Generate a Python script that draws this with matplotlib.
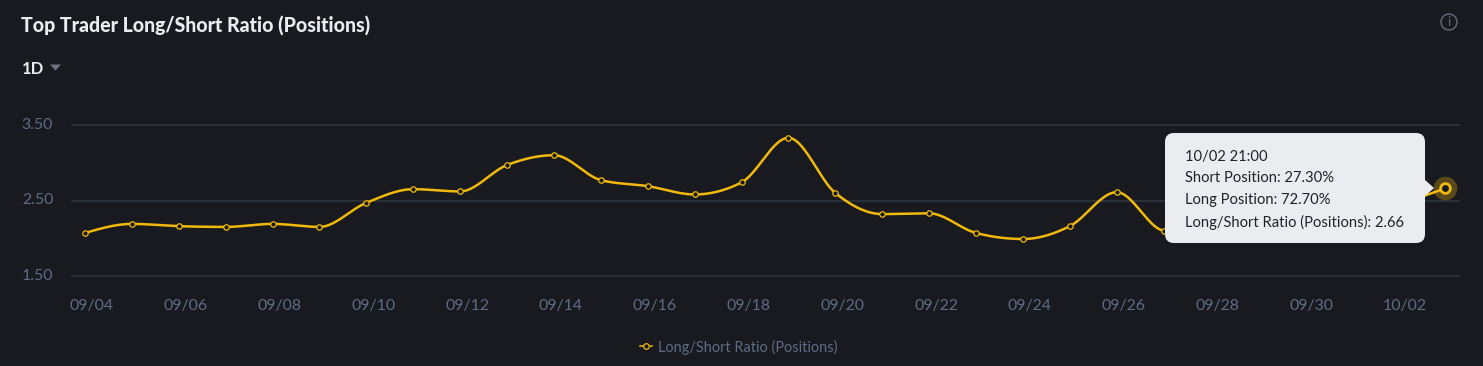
import numpy as np
import matplotlib
matplotlib.use("Agg")
import matplotlib.pyplot as plt
from matplotlib.patches import FancyBboxPatch, Polygon, Circle
from matplotlib.transforms import ScaledTranslation

# ---- data ----
dates = ["09/04","09/05","09/06","09/07","09/08","09/09","09/10","09/11","09/12","09/13",
         "09/14","09/15","09/16","09/17","09/18","09/19","09/20","09/21","09/22","09/23",
         "09/24","09/25","09/26","09/27","09/28","09/29","09/30","10/01","10/02","10/03"]
ratio = [2.07,2.19,2.16,2.15,2.19,2.15,2.47,2.65,2.62,2.97,
         3.10,2.77,2.69,2.58,2.74,3.33,2.60,2.32,2.33,2.07,
         1.99,2.16,2.61,2.10,2.05,2.15,2.20,2.30,2.45,2.66]
y_ticks = [1.5, 2.5, 3.5]
tick_every = 2
tooltip_lines = ["10/02 21:00", "Short Position: 27.30%", "Long Position: 72.70%",
                 "Long/Short Ratio (Positions): 2.66"]
title = "Top Trader Long/Short Ratio (Positions)"
series_name = "Long/Short Ratio (Positions)"

# ---- style ----
BG = "#181A20"; GRID = "#2B3139"; MUTED = "#5E6C84"; GOLD = "#F0B90B"; WHITE = "#EAECEF"
FONT = "Lato"
plt.rcParams["font.family"] = [FONT, "DejaVu Sans"]
W, H = 1483, 366
fig = plt.figure(figsize=(W/100, H/100), dpi=100, facecolor=BG)
ax = fig.add_axes([72/W, 1-276/H, (1459-72)/W, (276-125)/H], facecolor=BG)

def monotone_curve(y, n=24):
    """Monotone cubic (d3 curveMonotoneX style) through equally spaced values."""
    y = np.asarray(y, float)
    d = np.diff(y)
    m = np.zeros_like(y)
    for i in range(1, len(y)-1):
        if d[i-1]*d[i] > 0:
            s = np.sign(d[i-1])
            m[i] = s*min(2*abs(d[i-1]), 2*abs(d[i]), 0.5*abs(d[i-1]+d[i]))
    m[0] = (3*d[0]-m[1])/2
    m[-1] = (3*d[-1]-m[-2])/2
    xs, ys = [], []
    for i in range(len(y)-1):
        t = np.linspace(0, 1, n, endpoint=False)
        h00 = 2*t**3-3*t**2+1; h10 = t**3-2*t**2+t; h01 = -2*t**3+3*t**2; h11 = t**3-t**2
        xs.append(i+t); ys.append(h00*y[i]+h10*m[i]+h01*y[i+1]+h11*m[i+1])
    return np.r_[np.concatenate(xs), len(y)-1], np.r_[np.concatenate(ys), y[-1]]

x = np.arange(len(ratio))
cx, cy = monotone_curve(ratio)
ax.plot(cx, cy, color=GOLD, lw=1.8, zorder=3, solid_capstyle="round", clip_on=False)
ax.plot(x[:-1], ratio[:-1], ls="none", marker="o", ms=3.9, mfc=BG, mec=GOLD, mew=0.9, zorder=4, clip_on=False)
ax.plot(x[-1:], ratio[-1:], ls="none", marker="o", ms=17, mfc=GOLD, mec="none", alpha=0.3, zorder=4, clip_on=False)
ax.plot(x[-1:], ratio[-1:], ls="none", marker="o", ms=7.0, mfc=BG, mec=GOLD, mew=2.0, zorder=5, clip_on=False)

ppx = (1445-85)/(len(ratio)-1)
ax.set_xlim(-(85-72)/ppx, len(ratio)-1+(1459-1445)/ppx)
ax.set_ylim(1.5, 3.5)
ax.set_yticks(y_ticks, [f"{v:.2f}" for v in y_ticks])
ax.set_xticks(x[::tick_every], dates[::tick_every])
ax.grid(axis="y", color=GRID, lw=1.4, clip_on=False)
ax.set_axisbelow(True)
for s in ax.spines.values():
    s.set_visible(False)
ax.tick_params(length=0, colors=MUTED, labelsize=11.4)
ax.tick_params(axis="x", pad=16.5)
ax.tick_params(axis="y", pad=13.5)
off = ScaledTranslation(7/100, 0, fig.dpi_scale_trans)
for lab in ax.get_xticklabels():
    lab.set_transform(lab.get_transform()+off)
for lab in ax.get_yticklabels():
    lab.set_transform(lab.get_transform()+ScaledTranslation(0, 1.5/100, fig.dpi_scale_trans))

# legend
leg = ax.legend([ax.lines[1]], [series_name], loc="center left", frameon=False,
                bbox_to_anchor=(640/W, 1-347/H), bbox_transform=fig.transFigure,
                fontsize=10.45, labelcolor=MUTED, handlelength=0.8, handletextpad=0.42,
                borderpad=0, borderaxespad=0, numpoints=1)
h = leg.legend_handles[0]
h.set_linestyle("-"); h.set_color(GOLD); h.set_linewidth(1.1)
h.set_markersize(4.0); h.set_markerfacecolor(BG); h.set_markeredgecolor(GOLD)

# page furniture, in pixel coordinates on a transparent overlay
ui = fig.add_axes([0, 0, 1, 1], zorder=10)
ui.set_xlim(0, W); ui.set_ylim(H, 0); ui.axis("off")
ui.text(21, 25, title, color=WHITE, fontsize=14.08, fontweight="black", va="center", ha="left")
ui.text(22, 69, "1D", color=WHITE, fontsize=12, fontweight="bold", va="center", ha="left")
ui.add_patch(Polygon([(50, 64.5), (61, 64.5), (55.5, 70.5)], closed=True, fc="#70757F", ec="none"))
ui.add_patch(Circle((1449, 22), 8, fc="none", ec="#5E6673", lw=1.1))
ui.text(1449, 22.3, "i", color="#5E6673", fontsize=9.5, ha="center", va="center")

# tooltip
ui.add_patch(FancyBboxPatch((1165, 133), 260, 110, boxstyle="round,pad=0,rounding_size=9",
                            fc=WHITE, ec="none", zorder=2))
ui.add_patch(Polygon([(1424, 179), (1434, 188), (1424, 197)], closed=True, fc=WHITE, ec="none", zorder=2))
for yy, line in zip([157, 178, 200, 222.5], tooltip_lines):
    ui.text(1185, yy, line, color="#1E2329", fontsize=10.6, va="center", ha="left", zorder=3)

fig.savefig("out.png", dpi=100, facecolor=BG)
